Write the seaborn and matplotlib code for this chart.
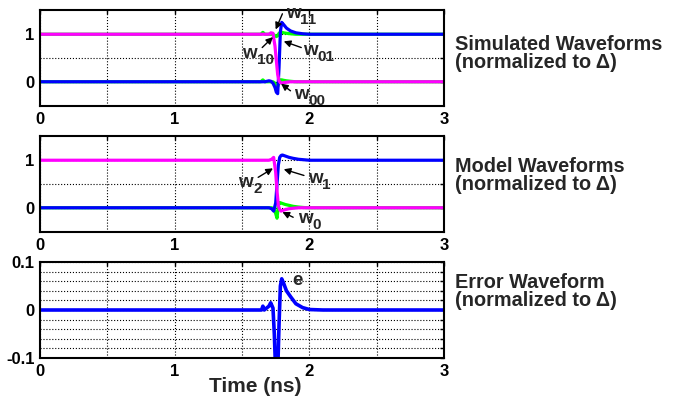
import numpy as np
import pandas as pd
import matplotlib
matplotlib.use("Agg")
import matplotlib.pyplot as plt
import seaborn as sns

sns.set_theme(style="white")
plt.rcParams['font.family'] = ['Liberation Sans', 'DejaVu Sans']
plt.rcParams['font.weight'] = 'bold'

# --- data (time in ns, values normalized to delta) ---
t_sim = [0.0, 1.64, 1.655, 1.67, 1.70, 1.715, 1.73, 1.745, 1.755, 1.765, 1.775,
         1.785, 1.795, 1.81, 1.83, 1.86, 1.90, 1.95, 2.0, 2.1, 3.0]
w11 = [1, 1, 1.04, 1, 1, 1, 1, 0.97, 0.95, 0.97, 1.02,
       1.04, 1.04, 1.03, 1.02, 1.01, 1.0, 1.0, 1.0, 1.0, 1.0]
w00 = [0, 0, 0.04, 0, 0, 0, 0, -0.03, -0.08, -0.1, -0.02,
       0.04, 0.04, 0.03, 0.02, 0.01, 0, 0, 0, 0, 0]
w01 = [0, 0, 0, 0, 0.02, 0.01, -0.03, -0.12, -0.22, -0.25, 0.3,
       1.05, 1.25, 1.2, 1.13, 1.07, 1.03, 1.01, 1.0, 1.0, 1.0]
w10 = [1, 1, 1, 1, 1.0, 1.03, 1.02, 0.75, 0.45, 0.15, 0.02,
       -0.02, -0.03, -0.02, -0.01, 0, 0, 0, 0, 0, 0]

t_mod = [0.0, 1.70, 1.72, 1.735, 1.75, 1.76, 1.77, 1.78, 1.79, 1.80, 1.82,
         1.85, 1.88, 1.92, 1.96, 2.0, 2.1, 3.0]
w0 = [0, 0, 0, -0.02, -0.12, -0.22, 0.05, 0.11, 0.1, 0.09, 0.07,
      0.05, 0.03, 0.015, 0.005, 0, 0, 0]
w1 = [0, 0, -0.02, -0.07, 0.1, 0.5, 0.9, 1.06, 1.1, 1.11, 1.09,
      1.06, 1.04, 1.02, 1.01, 1.0, 1.0, 1.0]
w2 = [1, 1, 1.02, 1.06, 0.75, 0.35, 0.05, -0.04, -0.07, -0.06, -0.04,
      -0.02, -0.01, 0, 0, 0, 0, 0]

t_err = [0.0, 1.645, 1.655, 1.665, 1.70, 1.713, 1.73, 1.74, 1.75, 1.765, 1.775,
         1.785, 1.795, 1.81, 1.83, 1.86, 1.90, 1.95, 2.0, 2.1, 3.0]
e = [0, 0, 0.008, 0, 0.008, 0.015, 0.004, -0.05, -0.13, -0.13, -0.03,
     0.05, 0.065, 0.055, 0.04, 0.028, 0.013, 0.005, 0.001, 0, 0]

x_ticks = [0, 0.5, 1, 1.5, 2, 2.5, 3]
x_labels = ['0', '', '1', '', '2', '', '3']
wave_ticks = [0, 0.5, 1]
wave_labels = ['0', '', '1']
err_ticks = [-0.1, -0.08, -0.06, -0.04, -0.02, 0, 0.02, 0.04, 0.06, 0.08, 0.1]
err_labels = ['-0.1', '', '', '', '', '0', '', '', '', '', '0.1']

MAG = '#ff00ff'
BLUE = '#0000ff'
GREEN = '#00ff00'


def long_df(t, series):
    frames = [pd.DataFrame({'t': t, 'v': v, 'w': name}) for name, v in series.items()]
    return pd.concat(frames, ignore_index=True)


def style_axes(ax, yticks, ylabels, ylim):
    ax.set_xlim(0, 3)
    ax.set_ylim(*ylim)
    ax.set_xticks(x_ticks)
    ax.set_xticklabels(x_labels)
    ax.set_yticks(yticks)
    ax.set_yticklabels(ylabels)
    ax.grid(True, linestyle=':', color='black', linewidth=0.8)
    ax.set_axisbelow(True)
    ax.tick_params(direction='in', length=3, width=1, top=True, right=True,
                   labelsize=12, pad=4, colors='black')
    for s in ax.spines.values():
        s.set_linewidth(1.5)
        s.set_color('black')
    ax.set_xlabel('')
    ax.set_ylabel('')


def wlabel(ax, t, v, sub):
    txt = ax.text(t, v, 'w', fontsize=13.5, fontweight='bold', ha='left', va='baseline')
    ax.annotate(sub, xy=(1, 0), xycoords=txt, xytext=(0, -3.5), textcoords='offset points',
                fontsize=11, fontweight='bold', ha='left', va='bottom')


def arrow(ax, tail, tip):
    ax.annotate('', xy=tip, xytext=tail,
                arrowprops=dict(arrowstyle='-|>', color='black', lw=1, mutation_scale=10,
                                shrinkA=0, shrinkB=0))


fig = plt.figure(figsize=(6.79, 4.0), dpi=100)
ax1 = fig.add_axes([40 / 679, 1 - 106 / 400, 404 / 679, 96 / 400])
ax2 = fig.add_axes([40 / 679, 1 - 232 / 400, 404 / 679, 96 / 400])
ax3 = fig.add_axes([40 / 679, 1 - 358 / 400, 404 / 679, 96 / 400])

# simulated waveforms
df1 = long_df(t_sim, {'w11': w11, 'w00': w00, 'w01': w01, 'w10': w10})
sns.lineplot(data=df1, x='t', y='v', hue='w', hue_order=['w11', 'w00', 'w01', 'w10'],
             palette={'w11': GREEN, 'w00': GREEN, 'w01': BLUE, 'w10': MAG},
             estimator=None, linewidth=2.3, legend=False, ax=ax1)
style_axes(ax1, wave_ticks, wave_labels, (-0.51, 1.51))
wlabel(ax1, 1.824, 1.34, '11')
wlabel(ax1, 1.504, 0.49, '10')
wlabel(ax1, 1.951, 0.553, '01')
wlabel(ax1, 1.884, -0.36, '00')
arrow(ax1, (1.80, 1.43), (1.75, 1.10))
arrow(ax1, (1.65, 0.72), (1.73, 0.94))
arrow(ax1, (1.94, 0.72), (1.81, 0.85))
arrow(ax1, (1.86, -0.19), (1.79, -0.04))

# model waveforms
df2 = long_df(t_mod, {'w0': w0, 'w1': w1, 'w2': w2})
sns.lineplot(data=df2, x='t', y='v', hue='w', hue_order=['w0', 'w1', 'w2'],
             palette={'w0': GREEN, 'w1': BLUE, 'w2': MAG},
             estimator=None, linewidth=2.3, legend=False, ax=ax2)
style_axes(ax2, wave_ticks, wave_labels, (-0.51, 1.51))
wlabel(ax2, 1.474, 0.434, '2')
wlabel(ax2, 1.988, 0.518, '1')
wlabel(ax2, 1.914, -0.32, '0')
arrow(ax2, (1.62, 0.64), (1.73, 0.83))
arrow(ax2, (1.96, 0.68), (1.81, 0.81))
arrow(ax2, (1.88, -0.20), (1.80, -0.09))

# error waveform
df3 = pd.DataFrame({'t': t_err, 'v': e})
sns.lineplot(data=df3, x='t', y='v', color=BLUE, estimator=None, linewidth=2.6, ax=ax3)
style_axes(ax3, err_ticks, err_labels, (-0.1, 0.1))
ax3.text(1.87, 0.052, 'e', fontsize=13.5, fontweight='bold', ha='left', va='baseline')

# right-hand captions
caption_kw = dict(fontsize=14.3, fontweight='bold', ha='left', va='top', linespacing=0.9)
fig.text(455 / 679, 1 - 35 / 400, 'Simulated Waveforms\n(normalized to \u0394)', **caption_kw)
fig.text(455 / 679, 1 - 157 / 400, 'Model Waveforms\n(normalized to \u0394)', **caption_kw)
fig.text(455 / 679, 1 - 273 / 400, 'Error Waveform\n(normalized to \u0394)', **caption_kw)

fig.text(255 / 679, 1 - 386 / 400, 'Time (ns)', fontsize=15, fontweight='bold',
         ha='center', va='center')

fig.savefig('out.png', dpi=100)
